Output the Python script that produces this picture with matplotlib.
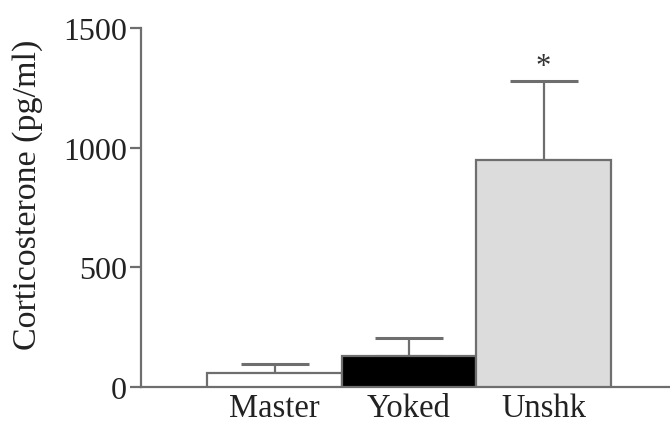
import matplotlib
matplotlib.use("Agg")
import matplotlib.pyplot as plt

categories = ["Master", "Yoked", "Unshk"]
means = [56, 130, 950]
sem = [39, 74, 328]
colors = ["#ffffff", "#000000", "#dcdcdc"]
yticks = [0, 500, 1000, 1500]

plt.rcParams['font.family'] = ['Liberation Serif', 'DejaVu Serif']
line_col = "#6e6e6e"

fig = plt.figure(figsize=(6.7, 4.27), dpi=100)
ax = fig.add_axes([0.2104, 0.092, 0.7896, 0.8394])

x = list(range(len(categories)))
ax.bar(x, means, width=1.0, color=colors, edgecolor=line_col, linewidth=1.6, zorder=3)
ax.errorbar(x, means, yerr=[[0] * len(sem), sem], fmt='none', ecolor=line_col,
            elinewidth=1.6, capsize=24.5, capthick=2.2, zorder=2)

ax.text(2, means[2] + sem[2], "*", ha='center', va='bottom', fontsize=22, color='#333333')

ax.set_xlim(-0.993, 2.94)
ax.set_ylim(0, 1500)
ax.set_yticks(yticks)
ax.set_xticks(x)
ax.set_xticklabels(categories)
ax.tick_params(axis='x', length=0, labelsize=23.5, pad=4, colors='#222222')
ax.tick_params(axis='y', length=8, width=1.6, color=line_col, labelsize=23, pad=2, labelcolor='#222222')
ax.set_ylabel("Corticosterone (pg/ml)", fontsize=24.5, color='#222222')
ax.yaxis.set_label_coords(-0.185, 0.538)

for s in ['top', 'right']:
    ax.spines[s].set_visible(False)
for s in ['left', 'bottom']:
    ax.spines[s].set_color(line_col)
    ax.spines[s].set_linewidth(1.6)

fig.savefig("out.png", dpi=100)
